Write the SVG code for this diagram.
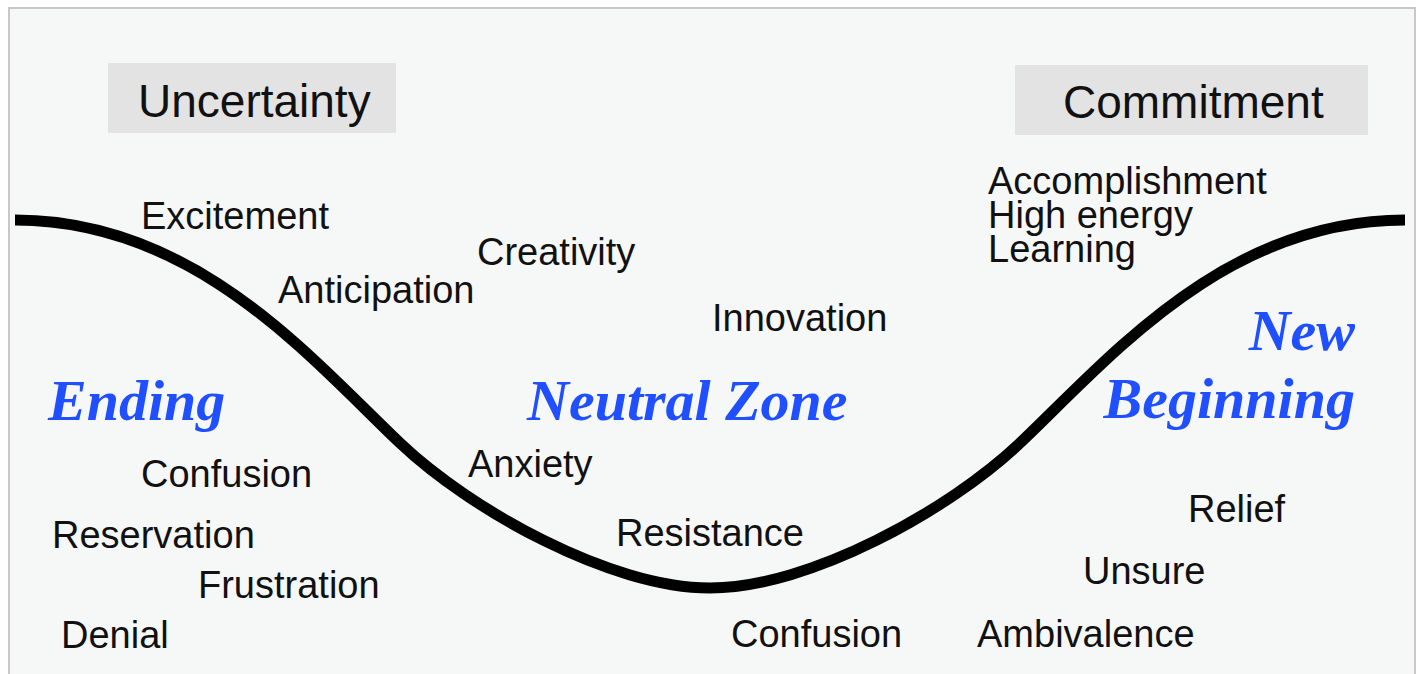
<svg xmlns="http://www.w3.org/2000/svg" width="1424" height="674" viewBox="0 0 1424 674">
<style>
.t{font-family:"Liberation Sans",Arial,sans-serif;font-size:38px;fill:#111}
.h{font-family:"Liberation Sans",Arial,sans-serif;font-size:46px;fill:#111}
.z{font-family:"Liberation Serif","Times New Roman",serif;font-size:58px;font-weight:bold;font-style:italic;fill:#1f4fff}
.box{fill:#e3e3e3}
</style>
<rect x="0" y="0" width="1424" height="674" fill="#ffffff"/>
<rect id="frame" x="9" y="8" width="1406" height="690" fill="#f6f8f8" stroke="#c8c8c8" stroke-width="2"/>
<g id="connectors">
<path d="M15,220 C195,220 310,357.5 400,443 C470,509.5 610,588 710,588 C810,588 950,509.5 1020,443 C1110,357.5 1225,220 1405,220" fill="none" stroke="#000" stroke-width="11"/>
</g>
<g id="uncertainty"><rect class="box" x="108" y="63" width="288" height="70"/><text class="h" x="138" y="117">Uncertainty</text></g>
<g id="commitment"><rect class="box" x="1015" y="65" width="353" height="70"/><text class="h" x="1063" y="118">Commitment</text></g>
<g id="ending"><text class="z" x="48" y="420">Ending</text></g>
<g id="neutral"><text class="z" x="527" y="420">Neutral Zone</text></g>
<g id="newbeginning"><text class="z" x="1355" y="350" text-anchor="end">New</text><text class="z" x="1355" y="418" text-anchor="end">Beginning</text></g>
<g id="excitement"><text class="t" x="141" y="229">Excitement</text></g>
<g id="anticipation"><text class="t" x="278" y="303">Anticipation</text></g>
<g id="creativity"><text class="t" x="477" y="265">Creativity</text></g>
<g id="innovation"><text class="t" x="712" y="331">Innovation</text></g>
<g id="accomplishment"><text class="t" x="988" y="194">Accomplishment</text><text class="t" x="988" y="228">High energy</text><text class="t" x="988" y="262">Learning</text></g>
<g id="confusion1"><text class="t" x="141" y="487">Confusion</text></g>
<g id="reservation"><text class="t" x="52" y="548">Reservation</text></g>
<g id="frustration"><text class="t" x="198" y="598">Frustration</text></g>
<g id="denial"><text class="t" x="61" y="648">Denial</text></g>
<g id="anxiety"><text class="t" x="468" y="477">Anxiety</text></g>
<g id="resistance"><text class="t" x="616" y="546">Resistance</text></g>
<g id="confusion2"><text class="t" x="731" y="647">Confusion</text></g>
<g id="relief"><text class="t" x="1188" y="522">Relief</text></g>
<g id="unsure"><text class="t" x="1083" y="584">Unsure</text></g>
<g id="ambivalence"><text class="t" x="977" y="647">Ambivalence</text></g>
</svg>
